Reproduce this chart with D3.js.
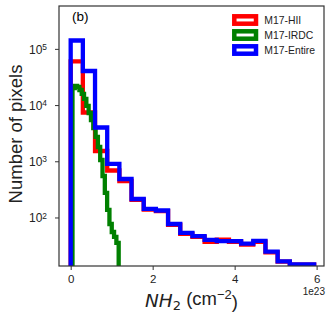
<!DOCTYPE html>
<html>
<head>
<meta charset="utf-8">
<script src="https://cdn.jsdelivr.net/npm/d3@7"></script>
<style>
  body { margin: 0; background: #fff; }
  svg { display: block; font-family: "Liberation Sans", Arial, sans-serif; }
</style>
</head>
<body>
<script>
// histogram bins: [lo, hi] split into n equal bins
var hiiBins = {lo: 0, hi: 5.94, n: 20},
    irdcBins = {lo: 0.044, hi: 1.171, n: 20},
    entireBins = {lo: 0, hi: 5.94, n: 20};

// counts per bin
var hiiCounts = [60100, 7380, 1524, 686, 446, 205, 138, 130, 74, 51,
                 45, 37, 40.5, 37, 33, 37, 24, 16.4, 14.5, 14.5];
var irdcCounts = [20100, 21900, 21000, 18560, 15760, 12850, 9640, 7230, 5430, 3910,
                  2710, 1795, 1054, 547, 273, 136, 76.5, 55.2, 45, 35.2];
var entireCounts = [141000, 40400, 3990, 902, 484, 213, 142, 133, 76.6, 53.4,
                    46.5, 39.8, 38, 38, 34.2, 38.2, 24.6, 16.6, 14.6, 14.6];

var series = [
  {name: "M17-HII", color: "#ff0000", bins: hiiBins, counts: hiiCounts},
  {name: "M17-IRDC", color: "#008000", bins: irdcBins, counts: irdcCounts},
  {name: "M17-Entire", color: "#0000ff", bins: entireBins, counts: entireCounts}
];

var xTicks = [0, 2, 4, 6],
    yTicks = [1e2, 1e3, 1e4, 1e5];

var W = 332, H = 321;
var plot = {left: 59, right: 324, top: 6, bottom: 266};

var x = d3.scaleLinear()
    .domain([-0.285, 6.18])
    .range([plot.left, plot.right]);

var y = d3.scaleLog()
    .domain([13.7, 579000])
    .range([plot.bottom, plot.top]);

var svg = d3.select("body").append("svg")
    .attr("width", W)
    .attr("height", H);

svg.append("defs").append("clipPath")
    .attr("id", "clip")
  .append("rect")
    .attr("x", plot.left)
    .attr("y", plot.top)
    .attr("width", plot.right - plot.left)
    .attr("height", plot.bottom - plot.top);

// step outline like matplotlib histtype='step'
function stepPoints(s) {
  var b = s.bins, w = (b.hi - b.lo) / b.n;
  var below = plot.bottom + 20;
  var pts = [[x(b.lo), below]];
  s.counts.forEach(function(c, i) {
    pts.push([x(b.lo + i * w), y(c)]);
    pts.push([x(b.lo + (i + 1) * w), y(c)]);
  });
  pts.push([x(b.hi), below]);
  return pts;
}

var line = d3.line();

svg.append("g")
    .attr("clip-path", "url(#clip)")
  .selectAll("path")
  .data(series)
  .enter().append("path")
    .attr("d", function(d) { return line(stepPoints(d)); })
    .attr("fill", "none")
    .attr("stroke", function(d) { return d.color; })
    .attr("stroke-width", 4.3)
    .attr("stroke-linejoin", "miter");

// axes
var xAxis = d3.axisBottom(x)
    .tickValues(xTicks)
    .tickFormat(d3.format("d"))
    .tickSizeInner(4)
    .tickSizeOuter(0)
    .tickPadding(5);

var gx = svg.append("g")
    .attr("transform", "translate(0," + plot.bottom + ")")
    .call(xAxis);
gx.select(".domain").remove();
gx.selectAll("line").attr("stroke", "#333").attr("stroke-width", 1);
gx.selectAll("text")
    .attr("fill", "#222")
    .style("font-size", "11.5px")
    .style("font-family", "Liberation Sans, Arial, sans-serif");

var yAxis = d3.axisLeft(y)
    .tickValues(yTicks)
    .tickSizeInner(4)
    .tickSizeOuter(0)
    .tickFormat("");

var gy = svg.append("g")
    .attr("transform", "translate(" + plot.left + ",0)")
    .call(yAxis);
gy.select(".domain").remove();
gy.selectAll("line").attr("stroke", "#333").attr("stroke-width", 1);
gy.selectAll(".tick").each(function(d) {
  var t = d3.select(this).select("text")
      .attr("x", -12)
      .attr("dy", "0.36em")
      .attr("fill", "#222")
      .attr("text-anchor", "end")
      .style("font-size", "12px")
      .style("font-family", "Liberation Sans, Arial, sans-serif");
  t.append("tspan").text("10");
  t.append("tspan")
      .attr("dy", "-0.45em")
      .style("font-size", "8.4px")
      .text(Math.round(Math.log10(d)));
});

// frame
svg.append("rect")
    .attr("x", plot.left)
    .attr("y", plot.top)
    .attr("width", plot.right - plot.left)
    .attr("height", plot.bottom - plot.top)
    .attr("fill", "none")
    .attr("stroke", "#333")
    .attr("stroke-width", 1.2);

// labels
svg.append("text")
    .attr("transform", "translate(21.5," + 134 + ") rotate(-90)")
    .attr("text-anchor", "middle")
    .attr("fill", "#222")
    .style("font-size", "18.5px")
    .text("Number of pixels");

var xl = svg.append("text")
    .attr("x", (plot.left + plot.right) / 2)
    .attr("y", 306.5)
    .attr("text-anchor", "middle")
    .attr("fill", "#222")
    .style("font-size", "18.5px");
xl.append("tspan").style("font-family", "DejaVu Sans").style("font-style", "italic").text("NH");
xl.append("tspan").attr("dy", "0.25em").style("font-size", "13px").style("font-family", "DejaVu Sans").text("2");
xl.append("tspan").attr("dy", "-0.25em").text(" (cm");
xl.append("tspan").attr("dy", "-0.45em").style("font-size", "13px").text("\u22122");
xl.append("tspan").attr("dy", "0.45em").text(")");

svg.append("text")
    .attr("x", 325)
    .attr("y", 294.5)
    .attr("text-anchor", "end")
    .attr("fill", "#222")
    .style("font-size", "10px")
    .text("1e23");

svg.append("text")
    .attr("x", 72)
    .attr("y", 20.5)
    .attr("fill", "#000")
    .style("font-size", "13.5px")
    .text("(b)");

// legend
var leg = svg.append("g").selectAll("g")
    .data(series)
  .enter().append("g")
    .attr("transform", function(d, i) { return "translate(0," + (20 + i * 15) + ")"; });

leg.append("rect")
    .attr("x", 234.3)
    .attr("y", -3.7)
    .attr("width", 21.7)
    .attr("height", 7.4)
    .attr("fill", "none")
    .attr("stroke", function(d) { return d.color; })
    .attr("stroke-width", 4.5);

leg.append("text")
    .attr("x", 264.3)
    .attr("y", 3.7)
    .attr("fill", "#222")
    .style("font-size", "10.4px")
    .text(function(d) { return d.name; });
</script>
</body>
</html>
